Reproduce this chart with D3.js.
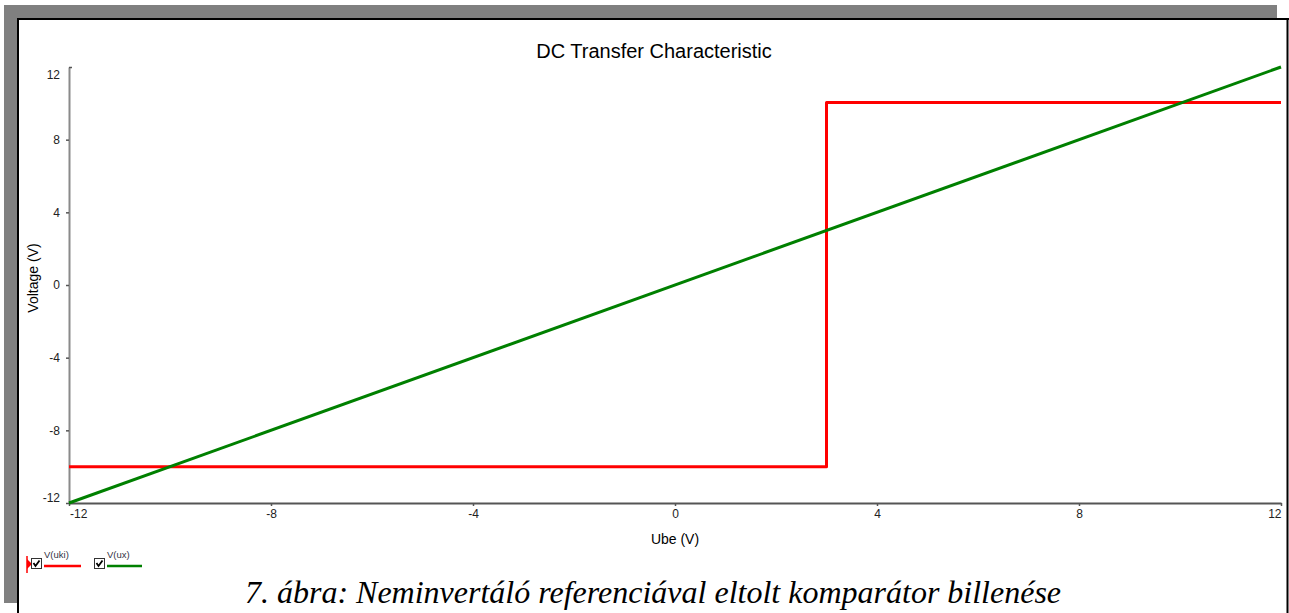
<!DOCTYPE html>
<html><head><meta charset="utf-8">
<script src="https://cdn.jsdelivr.net/npm/d3@7"></script>
<style>html,body{margin:0;padding:0;background:#fff;overflow:hidden}</style>
</head><body>
<svg id="c" width="1289" height="613"></svg>
<script>
// ---- data ----
const titleText = "DC Transfer Characteristic";
const xLabel = "Ube (V)";
const yLabel = "Voltage (V)";
const caption = "7. ábra: Neminvertáló referenciával eltolt komparátor billenése";
const xTicks = [-12, -8, -4, 0, 4, 8, 12];
const yTicks = [-12, -8, -4, 0, 4, 8, 12];
const seriesNames = ["V(uki)", "V(ux)"];
const ukiX = [-12, 3.0, 3.0, 12];
const ukiY = [-10.0, -10.0, 10.05, 10.05];
const uxX = [-12, 12];
const uxY = [-12, 12];
const colors = ["#ff0000", "#008000"];

const svg = d3.select("#c");
svg.append("rect").attr("width", 1289).attr("height", 613).attr("fill", "#fff");

// page frame (gray shadow + black border)
svg.append("rect").attr("x", 4).attr("y", 5).attr("width", 1273).attr("height", 13).attr("fill", "#808080");
svg.append("rect").attr("x", 4).attr("y", 5).attr("width", 13).attr("height", 598).attr("fill", "#808080");
svg.append("line").attr("x1", 17).attr("x2", 1289).attr("y1", 19).attr("y2", 19).attr("stroke", "#000").attr("stroke-width", 2);
svg.append("line").attr("x1", 18).attr("x2", 18).attr("y1", 18).attr("y2", 613).attr("stroke", "#000").attr("stroke-width", 2);
svg.append("line").attr("x1", 1287.5).attr("x2", 1287.5).attr("y1", 18).attr("y2", 613).attr("stroke", "#000").attr("stroke-width", 2);

const x = d3.scaleLinear().domain([-12, 12]).range([69, 1281]);
const y = d3.scaleLinear().domain([-12, 12]).range([503, 67]);

const font = "'Liberation Sans', Arial, sans-serif";
const fmt = d => String(d);

// title
svg.append("text").attr("x", 654).attr("y", 58).attr("text-anchor", "middle")
  .attr("font-family", font).attr("font-size", 20).attr("fill", "#000").text(titleText);

// y axis
const ya = svg.append("g").attr("transform", "translate(69,0)")
  .call(d3.axisLeft(y).tickValues(yTicks).tickFormat(fmt).tickSize(3).tickSizeOuter(0).tickPadding(6));
ya.select(".domain").attr("stroke", "#8a8a8a").attr("stroke-width", 2);
ya.selectAll(".tick line").attr("stroke", "#555").attr("stroke-width", 1.5);
ya.selectAll(".tick text").attr("font-family", font).attr("font-size", 12).attr("fill", "#222")
  .attr("dy", d => d === 12 ? "0.95em" : d === -12 ? "-0.15em" : "0.32em");
ya.selectAll(".tick").filter(d => d === 12).select("line").attr("x2", 3).attr("x1", 0)
  .attr("y1", 0).attr("y2", 0);

// x axis
const xa = svg.append("g").attr("transform", "translate(0,503)")
  .call(d3.axisBottom(x).tickValues(xTicks).tickFormat(fmt).tickSize(3).tickSizeOuter(0).tickPadding(3));
xa.select(".domain").attr("stroke", "#555").attr("stroke-width", 2);
xa.selectAll(".tick line").attr("stroke", "#555").attr("stroke-width", 1.5);
xa.selectAll(".tick text").attr("font-family", font).attr("font-size", 12).attr("fill", "#222")
  .attr("text-anchor", d => d === -12 ? "start" : d === 12 ? "end" : "middle")
  .attr("dx", d => d === -12 ? "0.05em" : 0);

// axis titles
svg.append("text").attr("x", 675).attr("y", 544).attr("text-anchor", "middle")
  .attr("font-family", font).attr("font-size", 14).attr("fill", "#000").text(xLabel);
svg.append("text").attr("transform", "translate(38,278) rotate(-90)").attr("text-anchor", "middle")
  .attr("font-family", font).attr("font-size", 14).attr("fill", "#000").text(yLabel);

// series
const line = d3.line().x(d => x(d[0])).y(d => y(d[1]));
const ukiPts = ukiX.map((v, i) => [v, ukiY[i]]);
const uxPts = uxX.map((v, i) => [v, uxY[i]]);
svg.append("path").attr("d", line(ukiPts)).attr("fill", "none").attr("stroke", colors[0])
  .attr("stroke-width", 3).attr("stroke-linejoin", "round");
svg.append("path").attr("d", line(uxPts)).attr("fill", "none").attr("stroke", colors[1])
  .attr("stroke-width", 3).attr("stroke-linejoin", "round");

// legend
const legX = [31, 94];
svg.append("line").attr("x1", 27).attr("x2", 27).attr("y1", 556).attr("y2", 573).attr("stroke", "#ff0000").attr("stroke-width", 1.5);
svg.append("path").attr("d", "M27,559 L32,564 L27,569 Z").attr("fill", "#ff0000");
seriesNames.forEach((name, i) => {
  const g = svg.append("g").attr("transform", `translate(${legX[i]},558)`);
  g.append("rect").attr("x", 0.5).attr("y", 0.5).attr("width", 10).attr("height", 10)
    .attr("fill", "#fff").attr("stroke", "#333").attr("stroke-width", 1);
  g.append("path").attr("d", "M2.5,5 L4.5,8 L8.5,2.5").attr("fill", "none").attr("stroke", "#000").attr("stroke-width", 1.8);
  g.append("text").attr("x", 13).attr("y", 0).attr("font-family", font).attr("font-size", 9.5)
    .attr("fill", "#334").text(name);
  g.append("line").attr("x1", 13).attr("x2", i === 0 ? 50 : 48).attr("y1", 8).attr("y2", 8)
    .attr("stroke", colors[i]).attr("stroke-width", 2.5);
});

// caption
svg.append("text").attr("x", 653).attr("y", 603).attr("text-anchor", "middle")
  .attr("font-family", "'Liberation Serif', 'Times New Roman', serif").attr("font-style", "italic")
  .attr("font-size", 32).attr("fill", "#000").text(caption);
</script>
</body></html>
